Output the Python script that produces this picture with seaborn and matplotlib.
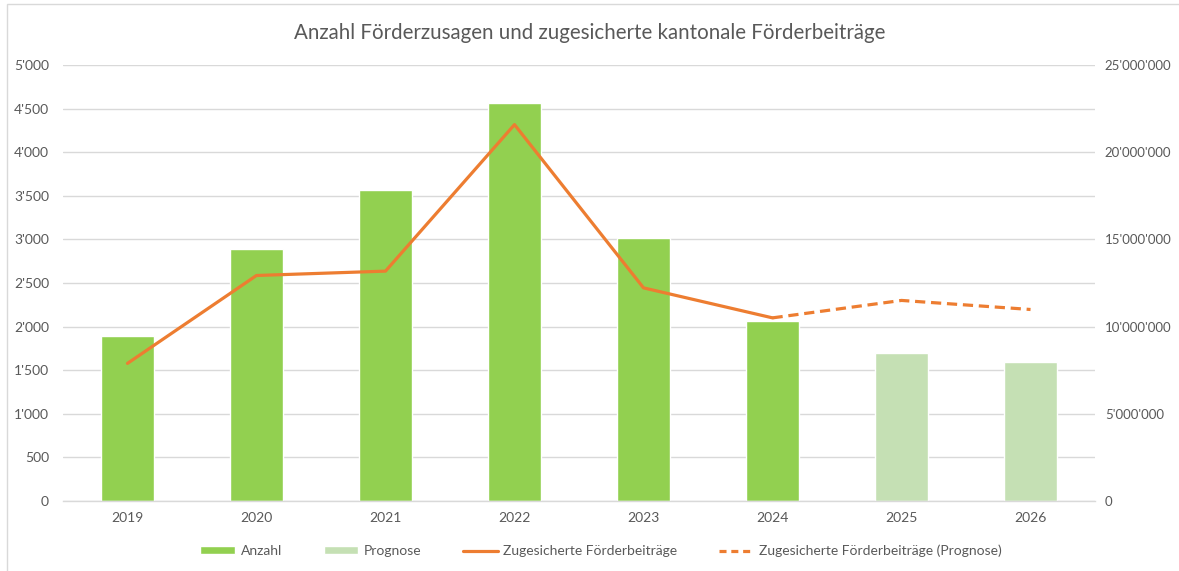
import matplotlib
matplotlib.use("Agg")
import matplotlib.pyplot as plt
import seaborn as sns
import pandas as pd
import numpy as np
from matplotlib.ticker import FuncFormatter, MultipleLocator
from matplotlib.patches import Patch, Rectangle
from matplotlib.lines import Line2D

# daten
jahre = ["2019", "2020", "2021", "2022", "2023", "2024", "2025", "2026"]
anzahl = [1890, 2895, 3570, 4565, 3015, 2063, 1700, 1595]
typ = ["Anzahl", "Anzahl", "Anzahl", "Anzahl", "Anzahl", "Anzahl", "Prognose", "Prognose"]
beitraege = [7890000, 12930000, 13180000, 21580000, 12220000, 10500000]
beitraege_prognose = [10500000, 11500000, 10980000]

gruen = "#92D050"
hellgruen = "#C5E0B4"
orange = "#ED7D31"
grau_text = "#595959"
grau_linie = "#D9D9D9"

sns.set_style("white")
plt.rcParams["font.family"] = ["Lato", "DejaVu Sans"]

df = pd.DataFrame({"Jahr": jahre, "Anzahl": anzahl, "Typ": typ})

fig = plt.figure(figsize=(11.79, 5.71), dpi=100)
ax = fig.add_axes([0.0534, 0.1226, 0.8754, 0.7636])

sns.barplot(data=df, x="Jahr", y="Anzahl", hue="Typ", palette={"Anzahl": gruen, "Prognose": hellgruen},
            dodge=False, width=0.41, ax=ax, legend=False, saturation=1)

ax.set_ylim(0, 5000)
ax.yaxis.set_major_locator(MultipleLocator(500))
fmt = FuncFormatter(lambda v, p: f"{v:,.0f}".replace(",", "'"))
ax.yaxis.set_major_formatter(fmt)
ax.grid(axis="y", color=grau_linie, linewidth=1.0)
ax.set_axisbelow(True)
for s in ["top", "right", "left"]:
    ax.spines[s].set_visible(False)
ax.spines["bottom"].set_color(grau_linie)
ax.spines["bottom"].set_linewidth(1.0)
ax.tick_params(axis="both", length=0, colors=grau_text, labelsize=10)
ax.tick_params(axis="y", pad=10)
ax.tick_params(axis="x", pad=8)
ax.set_xlabel("")
ax.set_ylabel("")

# zweite achse fuer die beitraege
xpos = ax.get_xticks()
ax2 = ax.twinx()
sns.lineplot(x=xpos[:6], y=beitraege, color=orange, linewidth=2.3, ax=ax2)
sns.lineplot(x=xpos[5:], y=beitraege_prognose, color=orange, linewidth=2.3, ax=ax2,
             dashes=False)
ax2.lines[-1].set_linestyle((0, (3.2, 1.8)))
ax2.set_ylim(0, 25000000)
ax2.yaxis.set_major_locator(MultipleLocator(5000000))
ax2.yaxis.set_major_formatter(fmt)
for s in ax2.spines.values():
    s.set_visible(False)
ax2.tick_params(axis="y", length=0, colors=grau_text, labelsize=9.5, pad=7)
ax2.set_xlim(-0.5, 7.5)
ax.set_xlim(-0.5, 7.5)

fig.text(0.5, 0.942, "Anzahl Förderzusagen und zugesicherte kantonale Förderbeiträge",
         ha="center", va="center", fontsize=14.8, color=grau_text)

handles = [
    Patch(facecolor=gruen, label="Anzahl"),
    Patch(facecolor=hellgruen, label="Prognose"),
    Line2D([0], [0], color=orange, lw=2.3, label="Zugesicherte Förderbeiträge"),
    Line2D([0], [0], color=orange, lw=2.3, linestyle=(0, (2.2, 1.5)),
           label="Zugesicherte Förderbeiträge (Prognose)"),
]
fig.legend(handles=handles, loc="center", bbox_to_anchor=(0.51, 0.035), ncol=4, frameon=False,
           fontsize=10, labelcolor=grau_text, handlelength=2.5, handleheight=0.5,
           columnspacing=3.0, handletextpad=0.4)

# rahmen des diagramms
fig.patches.append(Rectangle((7 / 1179, -0.05), 1.2, 1.05 - 4 / 571, transform=fig.transFigure,
                             fill=False, edgecolor=grau_linie, linewidth=1.0))

fig.savefig("out.png", dpi=100)
